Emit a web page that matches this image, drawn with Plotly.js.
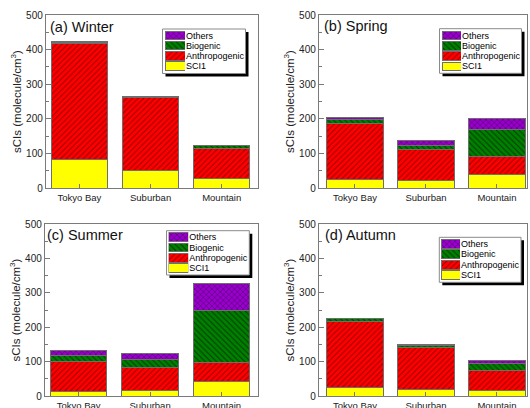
<!DOCTYPE html>
<html><head><meta charset="utf-8">
<script src="https://cdn.plot.ly/plotly-3.0.1.min.js"></script>
<style>html,body{margin:0;padding:0;background:#fff}#chart{width:530px;height:408px}</style>
</head><body><div id="chart"></div>
<script>
// ---------- data ----------
const sites = ['Tokyo Bay', 'Suburban', 'Mountain'];
const seriesNames = ['SCI1', 'Anthropogenic', 'Biogenic', 'Others'];
const panelTitles = ['(a) Winter', '(b) Spring', '(c) Summer', '(d) Autumn'];

const winterSCI1   = [82, 50, 28];
const winterAnthro = [336, 211, 86];
const winterBio    = [3, 3, 9];
const winterOthers = [1, 0.5, 1];

const springSCI1   = [25, 22, 40];
const springAnthro = [160, 88, 52];
const springBio    = [14, 13, 76];
const springOthers = [6, 13, 33];

const summerSCI1   = [13, 16, 43];
const summerAnthro = [86, 66, 55];
const summerBio    = [18, 24, 151];
const summerOthers = [15, 18, 77];

const autumnSCI1   = [26, 18, 17];
const autumnAnthro = [192, 122, 56];
const autumnBio    = [6, 8, 21];
const autumnOthers = [2, 3, 8];

const yTitle = 'sCIs (molecule/cm<sup>3</sup>)';
const yRange = [0, 500];

// ---------- layout helpers ----------
const W = 530, H = 408;
const px = x => x / W, py = y => 1 - y / H;
const FONT = 'Arial, "Liberation Sans", sans-serif';
const LINE = '#7a7a7a';

const styles = [
  { bg: '#FFFF00', fg: '#FFFF00', shape: '' },
  { bg: '#FF0000', fg: '#9A0000', shape: '/' },
  { bg: '#008000', fg: '#003A00', shape: '\\' },
  { bg: '#9900CC', fg: '#4A0066', shape: 'x' }
];

const panels = [
  { data: [winterSCI1, winterAnthro, winterBio, winterOthers], plot: [46, 15, 258, 188], xr: [-0.47, 2.51],
    title: [48, 27.3], box: [162.5, 29, 245.5, 73.5], sw: [165, 30.5, 185, 71] },
  { data: [springSCI1, springAnthro, springBio, springOthers], plot: [319, 15, 527, 188], xr: [-0.507, 2.423],
    title: [322, 26.5], box: [439.5, 28.7, 521.5, 73.3], sw: [442, 30.2, 461, 71.5] },
  { data: [summerSCI1, summerAnthro, summerBio, summerOthers], plot: [45, 224, 258, 396], xr: [-0.47, 2.51],
    title: [45, 235], box: [166.5, 230.7, 249.3, 275], sw: [168.5, 232, 188.3, 273.5] },
  { data: [autumnSCI1, autumnAnthro, autumnBio, autumnOthers], plot: [319, 224, 527, 396], xr: [-0.507, 2.423],
    title: [323, 235], box: [439.3, 237.3, 521, 282.3], sw: [441, 238.5, 460, 280.5] }
];

function markerFor(i) {
  const s = styles[i];
  const m = { color: s.bg, line: { color: '#6e6e6e', width: 1 } };
  if (s.shape) m.pattern = { shape: s.shape, bgcolor: s.bg, fgcolor: s.fg, size: 4, solidity: 0.25, fillmode: 'replace' };
  return m;
}

const traces = [];
const layout = {
  width: W, height: H,
  margin: { l: 0, r: 0, t: 0, b: 0 },
  paper_bgcolor: '#ffffff', plot_bgcolor: 'rgba(0,0,0,0)',
  barmode: 'stack', showlegend: false,
  font: { family: FONT, color: '#222' },
  shapes: [], annotations: []
};

panels.forEach((p, k) => {
  const id = k + 1, sid = id === 1 ? '' : String(id);
  const lid = String(id + 4);
  // main stacked bars
  p.data.forEach((vals, i) => {
    traces.push({
      type: 'bar', name: seriesNames[i], x: sites, y: vals,
      xaxis: 'x' + sid, yaxis: 'y' + sid, width: 0.79,
      marker: markerFor(i), hoverinfo: 'skip'
    });
  });
  const [x0, y0, x1, y1] = p.plot;
  layout['xaxis' + sid] = {
    domain: [px(x0), px(x1)], anchor: 'y' + sid, type: 'category',
    range: p.xr, ticks: 'inside', ticklen: 4, tickcolor: LINE,
    tickmode: 'array', tickvals: sites, ticktext: sites,
    showline: true, linecolor: LINE, linewidth: 1.2, mirror: true,
    showgrid: false, zeroline: false, fixedrange: true,
    tickfont: { size: 9.5, family: FONT, color: '#222' }
  };
  layout['yaxis' + sid] = {
    domain: [py(y1), py(y0)], anchor: 'x' + sid, range: yRange,
    dtick: 100, ticks: 'inside', ticklen: 5, tickcolor: LINE,
    minor: { ticks: 'inside', ticklen: 3, dtick: 50, tickcolor: LINE },
    showline: true, linecolor: LINE, linewidth: 1.2, mirror: true,
    showgrid: false, zeroline: false, fixedrange: true,
    tickfont: { size: 10, family: FONT, color: '#222' },
    title: { text: yTitle, font: { size: 11.5, family: FONT, color: '#222' }, standoff: 2 }
  };
  // panel title
  layout.annotations.push({
    xref: 'paper', yref: 'paper', x: px(p.title[0]), y: py(p.title[1]),
    xanchor: 'left', yanchor: 'middle', showarrow: false,
    text: panelTitles[k], font: { size: 14.5, family: FONT, color: '#111' }
  });
  // legend box with shadow
  const [bx0, by0, bx1, by1] = p.box;
  layout.shapes.push({ type: 'rect', xref: 'paper', yref: 'paper', layer: 'below',
    x0: px(bx0 + 3), x1: px(bx1 + 3), y0: py(by1 + 3), y1: py(by0 + 3),
    fillcolor: '#000', line: { width: 0 } });
  layout.shapes.push({ type: 'rect', xref: 'paper', yref: 'paper', layer: 'below',
    x0: px(bx0), x1: px(bx1), y0: py(by1), y1: py(by0),
    fillcolor: '#fff', line: { color: '#8a8a8a', width: 1 } });
  // legend swatches drawn as bars on an inset axis
  seriesNames.forEach((nm, i) => {
    traces.push({
      type: 'bar', orientation: 'h', name: nm, y: [nm], x: [1],
      xaxis: 'x' + lid, yaxis: 'y' + lid, width: 0.84,
      marker: markerFor(i), hoverinfo: 'skip'
    });
  });
  const [sx0, sy0, sx1, sy1] = p.sw;
  layout['xaxis' + lid] = { domain: [px(sx0), px(sx1)], anchor: 'y' + lid, range: [0, 1], visible: false, fixedrange: true };
  layout['yaxis' + lid] = {
    domain: [py(sy1), py(sy0)], anchor: 'x' + lid, type: 'category',
    categoryorder: 'array', categoryarray: seriesNames, range: [-0.5, 3.5],
    tickmode: 'array', tickvals: seriesNames, ticktext: seriesNames,
    side: 'right', ticks: '', showline: false, showgrid: false, zeroline: false,
    fixedrange: true, tickfont: { size: 9, family: FONT, color: '#000' }
  };
});

Plotly.newPlot('chart', traces, layout, { staticPlot: true, displayModeBar: false });
</script>
</body></html>
